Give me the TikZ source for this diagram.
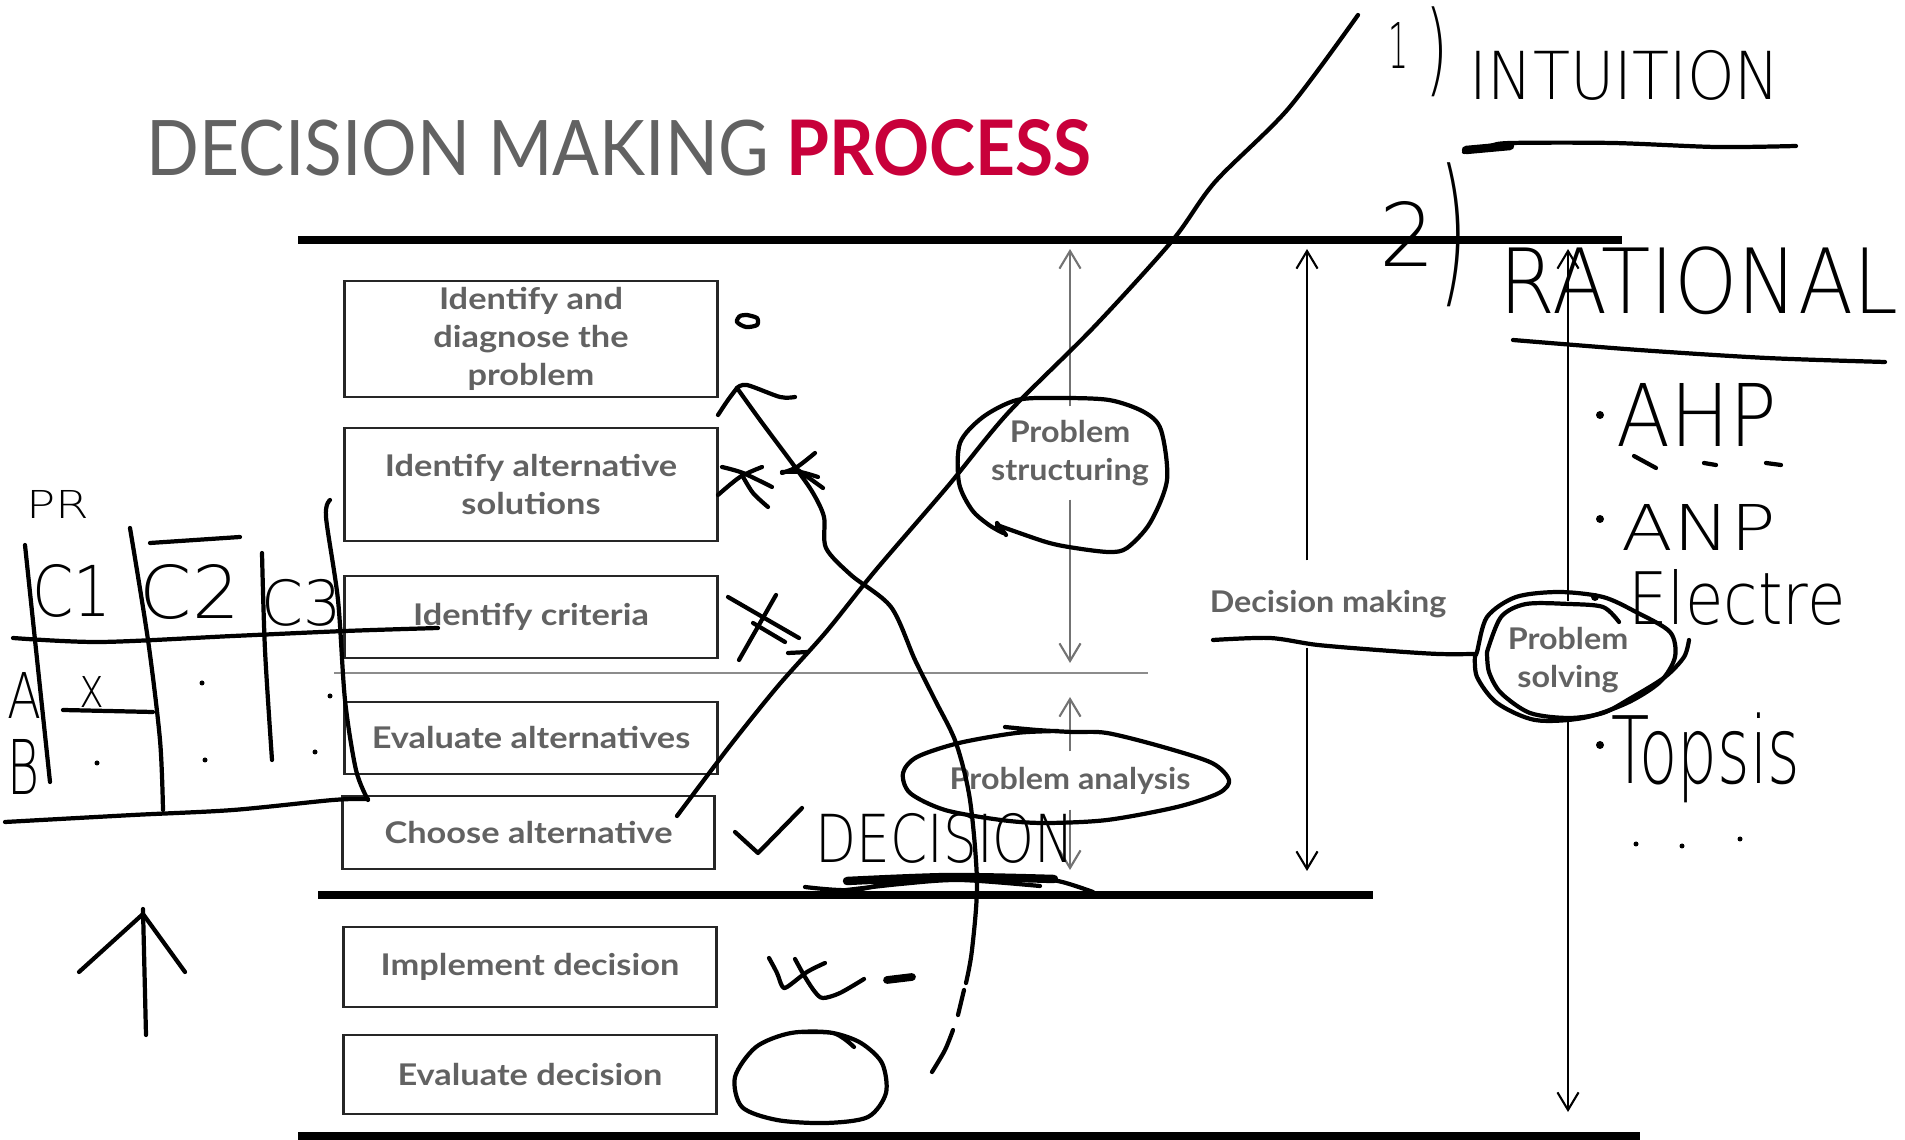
\documentclass[tikz,border=0pt]{standalone}
\usepackage{fontspec}
\setmainfont{Lato}
\newfontfamily\titlefont[FakeStretch=0.906]{Lato}
\newfontfamily\boxfont[FakeStretch=1.15]{Lato}
\newfontfamily\labelfont[FakeStretch=1.08]{Lato}
\newfontfamily\handfont{DejaVu Sans ExtraLight}
\usetikzlibrary{arrows.meta}
\definecolor{slideGrey}{RGB}{98,98,98}
\definecolor{slideRed}{RGB}{200,0,58}
\newcommand{\hw}[3]{\resizebox*{#1}{#2}{\handfont #3}}

\begin{document}
\begin{tikzpicture}[x=0.01cm,y=-0.01cm]
\tikzset{stepBox/.style={draw=black!85,line width=0.8pt,minimum width=3.72cm,inner sep=0pt,align=center,text=slideGrey,font=\boxfont\fontsize{8.5}{10.8}\selectfont\bfseries}}
\tikzset{phaseLabel/.style={inner sep=0pt,align=center,text=slideGrey,font=\labelfont\fontsize{8.5}{10.8}\selectfont\bfseries}}
\tikzset{thickBar/.style={line width=2pt}}
\tikzset{greyArrow/.style={draw=black!55,line width=0.6pt,-{Straight Barb[length=5pt,width=6pt]}}}
\tikzset{blackArrow/.style={line width=0.6pt,-{Straight Barb[length=5pt,width=6pt]}}}
\tikzset{ink/.style={line width=1.2pt,line cap=round,line join=round}}
\tikzset{inkText/.style={inner sep=0pt}}

\useasboundingbox (0,0) rectangle (1905,1140);

\node[anchor=base west,inner sep=0pt,text=slideGrey,font=\titlefont\fontsize{21.8}{26}\selectfont] (title) at (146,176) {DECISION MAKING \textcolor{slideRed}{\bfseries PROCESS}};

\draw[thickBar] (298,240) -- (1622,240);
\draw[thickBar] (318,895) -- (1373,895);
\draw[thickBar] (298,1136) -- (1640,1136);
\draw[black!45,line width=0.5pt] (334,673) -- (1148,673);

\node[stepBox,minimum height=1.16cm] (diagnose) at (531,339) {Identify and\\diagnose the\\problem};
\node[stepBox,minimum height=1.13cm] (altSol) at (531,484.5) {Identify alternative\\solutions};
\node[stepBox,minimum height=0.82cm] (criteria) at (531,617) {Identify criteria};
\node[stepBox,minimum height=0.72cm] (evalAlt) at (531,738) {Evaluate alternatives};
\node[stepBox,minimum height=0.73cm] (chooseAlt) at (528.5,832.5) {Choose alternative};
\node[stepBox,minimum height=0.80cm] (implement) at (530,967) {Implement decision};
\node[stepBox,minimum height=0.79cm] (evalDec) at (530,1074.5) {Evaluate decision};

\node[phaseLabel,minimum height=0.92cm] (structLbl) at (1070,453) {Problem\\structuring};
\coordinate (structTop) at (1070,249);
\coordinate (structBot) at (1070,663);
\draw[greyArrow] (structLbl.north) -- (structTop);
\draw[greyArrow] (structLbl.south) -- (structBot);

\node[phaseLabel,minimum height=0.57cm] (analysisLbl) at (1070,780.5) {Problem analysis};
\coordinate (analysisTop) at (1070,697);
\coordinate (analysisBot) at (1070,870);
\draw[greyArrow] (analysisLbl.north) -- (analysisTop);
\draw[greyArrow] (analysisLbl.south) -- (analysisBot);

\node[phaseLabel,minimum height=0.86cm] (dmLbl) at (1328,604) {Decision making};
\coordinate (dmTop) at (1307,249);
\coordinate (dmBot) at (1307,871);
\draw[blackArrow] (dmTop |- dmLbl.north) -- (dmTop);
\draw[blackArrow] (dmTop |- dmLbl.south) -- (dmBot);

\node[phaseLabel,minimum height=1.16cm] (solvLbl) at (1568,660) {Problem\\solving};
\coordinate (solvTop) at (1568,249);
\coordinate (solvBot) at (1568,1112);
\draw[blackArrow] (solvLbl.north) -- (solvTop);
\draw[blackArrow] (solvLbl.south) -- (solvBot);

\node[inkText] (one) at (1398,45) {\hw{0.20cm}{0.46cm}{1}};
\node[inkText] (oneParen) at (1437,52) {\hw{0.23cm}{0.90cm}{)}};
\node[inkText] (intuition) at (1625,75) {\hw{3.10cm}{0.50cm}{INTUITION}};
\draw[ink] plot[smooth] coordinates {(1464,152) (1490,146) (1511,143) (1613,143) (1716,147) (1796,146)};
\draw[ink,line width=2.4pt] (1466,150) -- (1510,146);
\node[inkText] (two) at (1408,234) {\hw{0.56cm}{0.65cm}{2}};
\node[inkText] (twoParen) at (1453,235) {\hw{0.28cm}{1.44cm}{)}};
\node[inkText] (rational) at (1699,281) {\hw{3.98cm}{0.68cm}{RATIONAL}};
\draw[ink] plot[smooth] coordinates {(1513,340) (1639,350) (1767,358) (1885,362)};

\fill (1600,415) circle[radius=4];
\node[inkText] (ahp) at (1697,415) {\hw{1.61cm}{0.63cm}{AHP}};
\draw[ink] (1634,456) -- (1656,468);
\draw[ink] (1704,463) -- (1716,465);
\draw[ink] (1766,463) -- (1781,465);
\fill (1600,519) circle[radius=4];
\node[inkText] (anp) at (1699,527) {\hw{1.54cm}{0.46cm}{ANP}};
\fill (1595,597) circle[radius=4];
\node[inkText] (electre) at (1737,598) {\hw{2.17cm}{0.56cm}{Electre}};
\fill (1600,745) circle[radius=4];
\node[inkText] (topsis) at (1706,758) {\hw{1.88cm}{0.90cm}{Topsis}};
\fill (1636,844) circle[radius=2.5];
\fill (1682,846) circle[radius=2.5];
\fill (1740,839) circle[radius=2.5];

\draw[ink] plot[smooth] coordinates {(1213,640) (1270,638) (1318,645) (1391,651) (1439,654) (1475,654)};
\draw[ink] plot[smooth] coordinates {(1475,655) (1477,652) (1487,617) (1516,597) (1559,592) (1603,597) (1636,612) (1670,632) (1675,657) (1660,682) (1627,703) (1583,718) (1535,720) (1497,703) (1477,677) (1475,655)};
\draw[ink] plot[smooth] coordinates {(1487,652) (1501,617) (1526,604) (1569,604) (1603,607) (1619,622)};
\draw[ink] plot[smooth] coordinates {(1689,640) (1684,657) (1665,677) (1631,698) (1603,713) (1569,718) (1530,713) (1501,693) (1489,672) (1487,652)};

\draw[ink] plot[smooth] coordinates {(1358,15) (1288,109) (1215,182) (1172,241) (1093,328) (1008,413) (948,486) (875,571) (826,632) (778,686) (729,747) (677,816)};

\draw[ink] plot[smooth] coordinates {(747,315) (757,318) (757,325) (746,327) (737,322) (740,316) (747,315)};
\draw[ink] plot[smooth] coordinates {(718,415) (728,400) (737,388)};
\draw[ink] plot[smooth] coordinates {(737,388) (747,385) (780,397) (795,397)};
\draw[ink] plot[smooth] coordinates {(737,388) (760,420) (795,467) (813,493) (824,517) (826,548) (851,575) (891,607) (915,660) (935,700) (956,743) (970,800) (977,883) (972,950) (966,983)};
\draw[ink] (964,990) -- (958,1015);
\draw[ink] plot[smooth] coordinates {(953,1030) (945,1050) (932,1072)};

\draw[ink] plot[smooth] coordinates {(722,467) (743,473) (772,487)};
\draw[ink] plot[smooth] coordinates {(762,467) (740,477) (718,495)};
\draw[ink] plot[smooth] coordinates {(742,475) (753,493) (768,507)};
\draw[ink] plot[smooth] coordinates {(815,453) (797,467) (782,473)};
\draw[ink] plot[smooth] coordinates {(782,472) (800,472) (818,477)};
\draw[ink] (798,470) -- (823,488);
\draw[ink] (728,597) -- (799,638);
\draw[ink] (776,595) -- (739,660);
\draw[ink] (753,623) -- (785,642);
\draw[ink] (788,653) -- (808,652);

\draw[ink] plot[smooth] coordinates {(997,523) (1006,535)};
\draw[ink] plot[smooth] coordinates {(997,525) (1046,542) (1075,548) (1109,552) (1127,548) (1150,523) (1167,480) (1161,430) (1144,412) (1109,400) (1058,398) (1017,400) (983,417) (960,443) (959,483) (972,510) (989,525) (1003,533)};

\draw[ink] plot[smooth] coordinates {(1005,727) (1037,730) (1072,732) (1107,733) (1163,747) (1212,763) (1229,780) (1219,793) (1177,807) (1107,820) (1044,823) (1001,820) (945,810) (910,793) (903,773) (917,757) (959,743) (1016,733) (1058,731)};

\draw[ink] (735,832) -- (758,853) -- (802,808);
\node[inkText] (decisionInk) at (945,838) {\hw{2.59cm}{0.50cm}{DECISION}};
\draw[ink] plot[smooth] coordinates {(805,887) (854,890) (917,878) (1016,877) (1058,881) (1093,892)};
\draw[ink,line width=2.4pt] plot[smooth] coordinates {(847,881) (950,877) (1054,879)};
\draw[ink] plot[smooth] coordinates {(830,892) (900,884) (960,880) (1040,886)};

\draw[ink] plot[smooth] coordinates {(769,958) (777,973) (782,986) (787,987) (807,972) (825,963)};
\draw[ink] plot[smooth] coordinates {(795,959) (805,977) (815,992) (823,998) (840,993) (864,979)};
\draw[ink,line width=2.2pt] (887,980) -- (912,977);

\draw[ink] plot[smooth] coordinates {(854,1047) (833,1033) (791,1033) (756,1047) (735,1077) (742,1107) (777,1120) (826,1123) (868,1117) (886,1093) (882,1063) (861,1043) (833,1033) (802,1032)};

\draw[ink] (143,909) -- (146,1035);
\draw[ink] (79,972) -- (143,914) -- (185,972);

\node[inkText] (prInk) at (58,504) {\hw{0.63cm}{0.28cm}{PR}};
\node[inkText] (cOne) at (72,591) {\hw{0.79cm}{0.53cm}{C1}};
\node[inkText] (cTwo) at (190,592) {\hw{1.00cm}{0.55cm}{C2}};
\node[inkText] (cThree) at (302,603) {\hw{0.80cm}{0.47cm}{C3}};
\node[inkText] (rowA) at (25,695) {\hw{0.34cm}{0.46cm}{A}};
\node[inkText] (rowX) at (92,692) {\hw{0.25cm}{0.31cm}{x}};
\node[inkText] (rowB) at (24,767) {\hw{0.32cm}{0.55cm}{B}};
\draw[ink] plot[smooth] coordinates {(25,545) (35,640) (50,782)};
\draw[ink] plot[smooth] coordinates {(130,528) (148,640) (160,740) (163,810)};
\draw[ink] (150,543) -- (240,537);
\draw[ink] plot[smooth] coordinates {(262,553) (265,650) (272,760)};
\draw[ink] plot[smooth] coordinates {(330,500) (326,517) (338,600) (345,700) (356,770) (368,800)};
\draw[ink] plot[smooth] coordinates {(13,638) (100,642) (233,636) (345,631) (438,628)};
\draw[ink] (63,710) -- (153,712);
\draw[ink] plot[smooth] coordinates {(5,822) (133,815) (233,810) (333,800) (368,799)};
\fill (202,683) circle[radius=2.5];
\fill (330,696) circle[radius=2.5];
\fill (97,763) circle[radius=2.5];
\fill (205,760) circle[radius=2.5];
\fill (315,752) circle[radius=2.5];
\end{tikzpicture}
\end{document}
